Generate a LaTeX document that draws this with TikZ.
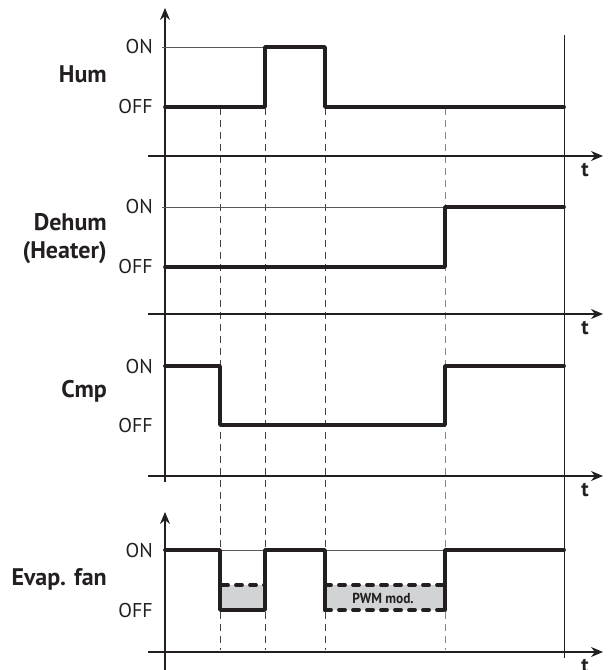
\documentclass[tikz,border=0pt]{standalone}
\usepackage{fontspec}
\setmainfont{PT Sans}
\usetikzlibrary{arrows.meta}
\definecolor{ink}{HTML}{231F20}
\definecolor{fillgray}{HTML}{D1D3D4}
\begin{document}
\begin{tikzpicture}[x=1pt,y=-1pt,
  axis/.style={draw=ink, line width=1.3pt},
  arrowaxis/.style={axis, -{Stealth[length=12pt,width=10pt]}},
  sig/.style={draw=ink, line width=3.8pt, line cap=round, line join=round},
  sigdash/.style={draw=ink, line width=3.8pt, line cap=round, dash pattern=on 6pt off 8pt},
  onref/.style={draw=ink!75, line width=0.8pt},
  guide/.style={draw=ink!85, line width=1pt, dash pattern=on 7pt off 5pt},
  guidelight/.style={guide, draw=ink!55},
  lvl/.style={anchor=east, inner sep=0pt, font=\fontsize{20}{22}\selectfont, text=ink},
  signame/.style={anchor=base east, inner sep=0pt, font=\fontsize{24}{28}\selectfont\bfseries, text=ink},
  tlab/.style={anchor=base, inner sep=0pt, font=\fontsize{21}{24}\selectfont\bfseries, text=ink},
]
\useasboundingbox (0,0) rectangle (608,670);

% guide lines
\draw[guide] (220,108) -- (220,650);
\draw[guide] (265,108) -- (265,650);
\draw[guide] (325,108) -- (325,650);
\draw[guidelight] (445,108) -- (445,650);

% axes
\draw[arrowaxis] (165,482) -- (165,8);
\draw[arrowaxis] (165,670) -- (165,512);
\draw[arrowaxis] (148,156) -- (603,156);
\draw[arrowaxis] (148,314) -- (603,314);
\draw[arrowaxis] (148,476) -- (603,476);
\draw[arrowaxis] (148,652) -- (603,652);
\draw[ink, line width=1pt] (564,35) -- (564,658);

% time labels
\node[tlab] (t1) at (585,176) {t};
\node[tlab] (t2) at (585,334) {t};
\node[tlab] (t3) at (585,496) {t};
\node[tlab] (t4) at (585,672) {t};

% signal names
\node[signame] (hum) at (107,82) {Hum};
\node[signame] (dehum) at (107,230) {Dehum};
\node[signame] (heater) at (107,258) {(Heater)};
\node[signame] (cmp) at (107,397) {Cmp};
\node[signame] (fan) at (107,585) {Evap. fan};

% level labels
\node[lvl] (on1) at (153,46) {ON};
\node[lvl] (off1) at (153,106) {OFF};
\node[lvl] (on2) at (153,206) {ON};
\node[lvl] (off2) at (153,266) {OFF};
\node[lvl] (on3) at (153,366) {ON};
\node[lvl] (off3) at (153,425) {OFF};
\node[lvl] (on4) at (153,550) {ON};
\node[lvl] (off4) at (153,610) {OFF};

% reference ON lines
\draw[onref] (162,47) -- (265,47);
\draw[onref] (162,207) -- (445,207);
\draw[onref] (220,550) -- (265,550);
\draw[onref] (325,550) -- (445,550);

% Hum
\draw[sig] (165,107) -- (265,107) -- (265,47) -- (325,47) -- (325,107) -- (564,107);
% Dehum
\draw[sig] (165,267) -- (445,267) -- (445,207) -- (564,207);
% Cmp
\draw[sig] (165,366) -- (220,366) -- (220,425) -- (445,425) -- (445,366) -- (564,366);
% Evap fan
\fill[fillgray] (220,585) rectangle (265,610);
\fill[fillgray] (325,585) rectangle (445,610);
\draw[sigdash] (222,585) -- (265,585);
\draw[sigdash] (325,585) -- (445,585);
\draw[sigdash] (325,610) -- (445,610);
\draw[sig] (165,550) -- (220,550) -- (220,610) -- (265,610) -- (265,550) -- (325,550) -- (325,610);
\draw[sig] (445,610) -- (445,550) -- (564,550);
\node[inner sep=0pt, text=ink, font=\fontsize{14.5}{16}\selectfont\bfseries] (pwm) at (383,598) {\scalebox{0.92}[1]{PWM mod.}};
\end{tikzpicture}
\end{document}
